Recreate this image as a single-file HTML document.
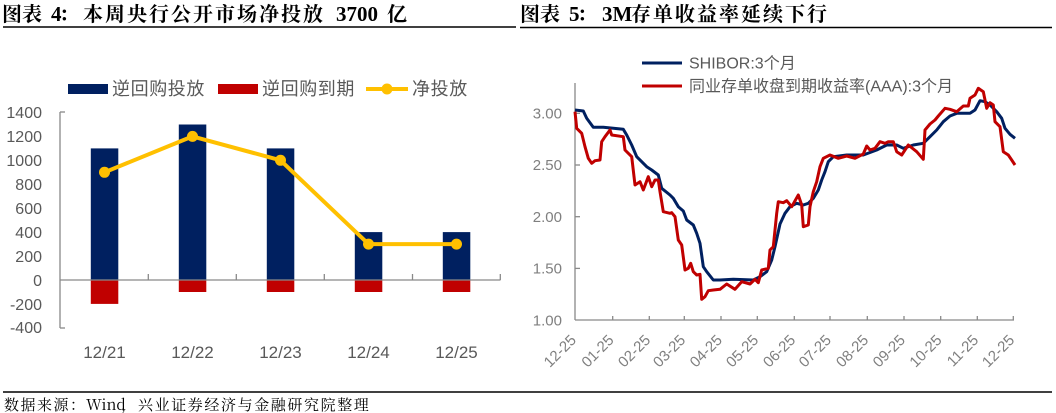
<!DOCTYPE html>
<html><head><meta charset="utf-8">
<style>
html,body{margin:0;padding:0;background:#fff;}
body{width:1056px;height:413px;overflow:hidden;}
svg{display:block;}
.ttl{font-family:"Noto Serif CJK SC","Liberation Serif",serif;font-weight:bold;font-size:20px;fill:#000;}
.tnum{font-family:"Liberation Serif",serif;font-weight:bold;font-size:21px;fill:#000;}
.foot{font-family:"Noto Serif CJK SC","Liberation Serif",serif;font-size:15px;fill:#000;}
.lab{font-family:"Liberation Sans","Noto Sans CJK SC",sans-serif;fill:#595959;}
.lab2{font-family:"Liberation Sans","Noto Sans CJK SC",sans-serif;fill:#7f7f7f;}
</style></head>
<body>
<svg width="1056" height="413" viewBox="0 0 1056 413" xmlns="http://www.w3.org/2000/svg">
<!-- Titles -->
<text class="ttl" x="2" y="21">图表</text>
<text class="tnum" x="51" y="21">4</text>
<text class="ttl" x="59" y="21">：</text>
<text class="ttl" x="83" y="21" letter-spacing="2">本周央行公开市场净投放</text>
<text class="tnum" x="336" y="21">3700</text>
<text class="ttl" x="387" y="21">亿</text>

<text class="ttl" x="520" y="21">图表</text>
<text class="tnum" x="569" y="21">5</text>
<text class="ttl" x="577" y="21">：</text>
<text class="tnum" x="602" y="21" font-size="17">3M</text>
<text class="ttl" x="631" y="21" letter-spacing="2">存单收益率延续下行</text>

<line x1="3" y1="27" x2="516" y2="27" stroke="#000" stroke-width="1.5"/>
<line x1="520" y1="27.5" x2="1052" y2="27.5" stroke="#000" stroke-width="1.5"/>
<line x1="3" y1="392" x2="1052" y2="392" stroke="#000" stroke-width="1.5"/>

<text class="foot" x="4" y="410" letter-spacing="1.5">数据来源：</text>
<text class="foot" x="86" y="410" font-family="Liberation Serif">Wind</text>
<text class="foot" x="121" y="410">，</text>
<text class="foot" x="138" y="410" letter-spacing="1.6">兴业证券经济与金融研究院整理</text>

<!-- LEFT CHART -->
<rect x="68" y="84" width="40" height="10" fill="#002060"/>
<text class="lab" x="112" y="95" font-size="18" letter-spacing="0.6">逆回购投放</text>
<rect x="218" y="84" width="40" height="10" fill="#C00000"/>
<text class="lab" x="262" y="95" font-size="18" letter-spacing="0.6">逆回购到期</text>
<line x1="366" y1="89" x2="408" y2="89" stroke="#FFC000" stroke-width="4"/>
<circle cx="387" cy="89" r="5.5" fill="#FFC000"/>
<text class="lab" x="412" y="95" font-size="18" letter-spacing="0.6">净投放</text>

<g class="lab" font-size="16" text-anchor="end">
<text x="42" y="118">1400</text>
<text x="42" y="142">1200</text>
<text x="42" y="166">1000</text>
<text x="42" y="190">800</text>
<text x="42" y="214">600</text>
<text x="42" y="238">400</text>
<text x="42" y="262">200</text>
<text x="42" y="286">0</text>
<text x="42" y="310">-200</text>
<text x="42" y="333">-400</text>
</g>

<g fill="#002060">
<rect x="90.8" y="148.4" width="27.5" height="131.6"/>
<rect x="178.8" y="124.5" width="27.5" height="155.5"/>
<rect x="266.8" y="148.4" width="27.5" height="131.6"/>
<rect x="354.8" y="232.1" width="27.5" height="47.9"/>
<rect x="442.8" y="232.1" width="27.5" height="47.9"/>
</g>
<g fill="#C00000">
<rect x="90.8" y="280" width="27.5" height="23.9"/>
<rect x="178.8" y="280" width="27.5" height="12"/>
<rect x="266.8" y="280" width="27.5" height="12"/>
<rect x="354.8" y="280" width="27.5" height="12"/>
<rect x="442.8" y="280" width="27.5" height="12"/>
</g>

<g stroke="#898989" stroke-width="1.3" fill="none">
<line x1="60" y1="112" x2="60" y2="328"/>
<line x1="60" y1="112" x2="65" y2="112"/>
<line x1="60" y1="328" x2="65" y2="328"/>
<line x1="60" y1="280" x2="500.5" y2="280"/>
<line x1="148.3" y1="274" x2="148.3" y2="280"/>
<line x1="236.3" y1="274" x2="236.3" y2="280"/>
<line x1="324.3" y1="274" x2="324.3" y2="280"/>
<line x1="412.5" y1="274" x2="412.5" y2="280"/>
<line x1="500.3" y1="274" x2="500.3" y2="280"/>
</g>

<polyline points="104.5,172.3 192.5,136.4 280.5,160.3 368.5,244.1 456.5,244.1" fill="none" stroke="#FFC000" stroke-width="4" stroke-linejoin="round"/>
<g fill="#FFC000">
<circle cx="104.5" cy="172.3" r="5.5"/>
<circle cx="192.5" cy="136.4" r="5.5"/>
<circle cx="280.5" cy="160.3" r="5.5"/>
<circle cx="368.5" cy="244.1" r="5.5"/>
<circle cx="456.5" cy="244.1" r="5.5"/>
</g>

<g class="lab" font-size="17" text-anchor="middle">
<text x="104.5" y="358">12/21</text>
<text x="192.5" y="358">12/22</text>
<text x="280.5" y="358">12/23</text>
<text x="368.5" y="358">12/24</text>
<text x="456.5" y="358">12/25</text>
</g>

<!-- RIGHT CHART -->
<line x1="642" y1="63" x2="682" y2="63" stroke="#002060" stroke-width="3"/>
<text class="lab" x="689" y="68.5" font-size="16">SHIBOR:3个月</text>
<line x1="642" y1="86" x2="682" y2="86" stroke="#C00000" stroke-width="3"/>
<text class="lab" x="689" y="91.5" font-size="16">同业存单收盘到期收益率(AAA):3个月</text>

<g class="lab2" font-size="15" text-anchor="end">
<text x="562" y="118.5">3.00</text>
<text x="562" y="170.2">2.50</text>
<text x="562" y="221.9">2.00</text>
<text x="562" y="273.6">1.50</text>
<text x="562" y="325.3">1.00</text>
</g>

<g stroke="#898989" stroke-width="1.3" fill="none">
<line x1="575" y1="83" x2="575" y2="320"/>
<line x1="575" y1="113.3" x2="580" y2="113.3"/>
<line x1="575" y1="165" x2="580" y2="165"/>
<line x1="575" y1="216.7" x2="580" y2="216.7"/>
<line x1="575" y1="268.4" x2="580" y2="268.4"/>
<line x1="575" y1="320" x2="1014" y2="320"/>
<line x1="612.7" y1="316" x2="612.7" y2="320"/>
<line x1="649.3" y1="316" x2="649.3" y2="320"/>
<line x1="684.3" y1="316" x2="684.3" y2="320"/>
<line x1="721" y1="316" x2="721" y2="320"/>
<line x1="757.3" y1="316" x2="757.3" y2="320"/>
<line x1="794.3" y1="316" x2="794.3" y2="320"/>
<line x1="830" y1="316" x2="830" y2="320"/>
<line x1="867.3" y1="316" x2="867.3" y2="320"/>
<line x1="904" y1="316" x2="904" y2="320"/>
<line x1="940.7" y1="316" x2="940.7" y2="320"/>
<line x1="977.3" y1="316" x2="977.3" y2="320"/>
<line x1="1013.3" y1="316" x2="1013.3" y2="320"/>
</g>

<polyline fill="none" stroke="#002060" stroke-width="3" stroke-linejoin="round" points="575,110 583.3,111 586.7,118.3 593.3,127.3 603.3,127.3 613.3,128.3 623.3,129.3 626.7,135 631.7,145 636.7,156.7 641.7,161.7 646.7,166.7 651.7,170 658.3,175 661.7,188.3 670,195 673.3,198.3 678.3,206.7 683.3,211 686.7,220 693.3,225 696.7,233.3 700,243.3 703.3,266.7 706.7,271.7 713.3,280 720,280 733.3,279.3 753.3,280 760,276.7 766.7,271.7 771.7,260 775,246.7 780,224 785,213.3 790,206.7 796.7,203.3 803.3,205 808.3,203.3 813.3,198.3 818.3,190 821.7,180 825,171.7 828.3,161.7 833.3,156.7 846.7,155 863.3,155 876.7,150 886.7,145 896.7,145 903.3,148.3 913.3,145 923.3,143.3 930,136.7 936.7,130 943.3,121.7 950,116 956.7,113.3 970,113.3 975,110 980,100.7 985,101.7 990,105 996.7,111.7 1001.7,118.3 1005,128.3 1010,134.3 1015,138.3"/>

<polyline fill="none" stroke="#C00000" stroke-width="3" stroke-linejoin="round" points="575,111.7 576.7,128.3 581.7,133.3 585,146.7 588.3,158.3 591.7,163.3 595,160.7 600,160 601.7,141.7 605,136.7 610,130 611.7,135 623.3,136.7 625,150 631.7,156.7 635,185 640,181.7 643.3,190 648.3,176.7 651.7,186.7 655,180 658.3,180 660,191.7 663.3,211.7 670,213.3 671.7,212.7 675,216.7 678.3,240 681.7,245 685,270 688.3,268.3 690.7,263.3 693.3,271.7 696.7,275 700,274.3 701.7,299.3 705,296.7 708.3,290.7 713.3,290 720,289.3 726.7,284 735,289.3 741.7,281.7 750,284 755,279.3 758.3,282.7 761.7,270 768.3,268.3 770,250 773.3,246.7 776.7,213.3 778.3,201.7 783.3,202.7 786.7,200.7 791.7,206.7 798.3,195 801.7,205 803.3,226.7 808.3,225 810,206.7 813.3,191.7 816.7,181.7 820,166.7 823.3,158.3 830,155 838.3,158.3 846.7,156 855,158.3 863.3,154 866.7,146 870,150 875,148.3 880,141.7 885,143.3 888.3,141.7 893.3,141.7 896.7,151.7 901.7,155 908.3,145 916.7,151.7 923.3,159.3 925,130 930,124 935,120 938.3,116 945,108.3 950,109.3 956.7,111.7 963.3,106 968.3,106 970,98.3 975,95 978.3,88.3 983.3,91.7 986.7,108.3 990,102.7 993.3,105 995,121.7 1000,126.7 1003.3,151.7 1008.3,155 1011.7,160 1015,165"/>

<g class="lab2" font-size="15" text-anchor="end">
<text transform="translate(577,341) rotate(-45)">12-25</text>
<text transform="translate(614.7,341) rotate(-45)">01-25</text>
<text transform="translate(651.3,341) rotate(-45)">02-25</text>
<text transform="translate(686.3,341) rotate(-45)">03-25</text>
<text transform="translate(723,341) rotate(-45)">04-25</text>
<text transform="translate(759.3,341) rotate(-45)">05-25</text>
<text transform="translate(796.3,341) rotate(-45)">06-25</text>
<text transform="translate(832,341) rotate(-45)">07-25</text>
<text transform="translate(869.3,341) rotate(-45)">08-25</text>
<text transform="translate(906,341) rotate(-45)">09-25</text>
<text transform="translate(942.7,341) rotate(-45)">10-25</text>
<text transform="translate(979.3,341) rotate(-45)">11-25</text>
<text transform="translate(1015.3,341) rotate(-45)">12-25</text>
</g>
</svg>
</body></html>
